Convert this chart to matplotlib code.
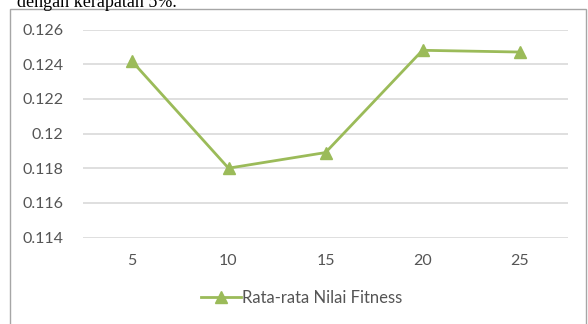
import matplotlib.pyplot as plt
from matplotlib.patches import Rectangle

kerapatan = ["5", "10", "15", "20", "25"]
fitness = [0.1242, 0.1180, 0.1189, 0.1248, 0.1247]
y_ticks = [0.114, 0.116, 0.118, 0.12, 0.122, 0.124, 0.126]
y_labels = ["0.114", "0.116", "0.118", "0.12", "0.122", "0.124", "0.126"]

green = "#9BBB59"
grey_txt = "#555555"

plt.rcParams["font.family"] = ["Lato", "DejaVu Sans"]

fig = plt.figure(figsize=(5.88, 3.24), dpi=100)

# chart frame (bottom runs off the picture)
fig.patches.append(Rectangle((10 / 588, -0.1), 576 / 588, 1.1 - 9 / 324,
                             transform=fig.transFigure, fill=False,
                             edgecolor="#A6A6A6", linewidth=1.0))

# caption text cut off at the top
fig.text(17 / 588, 1 - 7 / 324, "dengan kerapatan 5%.", family="Liberation Serif",
         fontsize=13, va="baseline", ha="left", color="black")

ax = fig.add_axes([83 / 588, 1 - 237.5 / 324, 485 / 588, 208 / 324])
x = range(len(kerapatan))
ax.plot(x, fitness, color=green, linewidth=2, marker="^", markersize=8,
        label="Rata-rata Nilai Fitness")

ax.set_xlim(-0.5, len(kerapatan) - 0.5)
ax.set_ylim(0.114, 0.126)
ax.set_xticks(list(x))
ax.set_xticklabels(kerapatan)
ax.set_yticks(y_ticks)
ax.set_yticklabels(y_labels)
ax.tick_params(length=0, labelsize=11.5, colors=grey_txt)
ax.tick_params(axis="y", pad=14)
ax.tick_params(axis="x", pad=12)
ax.grid(axis="y", color="#D9D9D9", linewidth=1.2)
ax.set_axisbelow(True)
for s in ax.spines.values():
    s.set_visible(False)

fig.legend(loc="center", bbox_to_anchor=(0.513, 0.08), frameon=False,
           fontsize=12, handlelength=2.4, handletextpad=0.1,
           labelcolor=grey_txt)

fig.savefig("out.png", dpi=100)
